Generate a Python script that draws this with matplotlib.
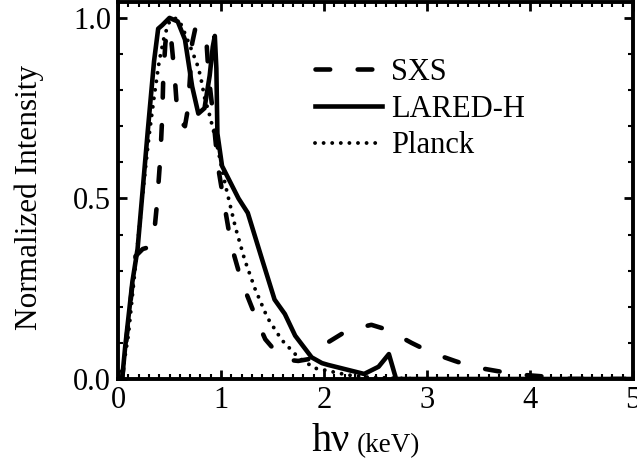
import matplotlib
matplotlib.use("Agg")
import matplotlib.pyplot as plt
from matplotlib.ticker import MultipleLocator

plt.rcParams["font.family"] = ["Liberation Serif", "DejaVu Serif"]

# SXS measurement (dashed)
sxs_x = [0.0, 0.04, 0.17, 0.24, 0.30, 0.35, 0.38, 0.41, 0.43, 0.44, 0.46, 0.48,
         0.52, 0.55, 0.58, 0.65, 0.68, 0.72, 0.75, 0.83, 0.86, 0.88, 0.92, 0.97,
         1.04, 1.10, 1.20, 1.36, 1.43, 1.55, 1.65, 1.75, 1.85, 1.95, 2.03, 2.23,
         2.46, 2.62, 2.85, 3.05, 3.27, 3.44, 3.66, 3.86, 4.09, 4.25, 4.4, 5.0]
sxs_y = [0.0, 0.0, 0.34, 0.36, 0.365, 0.40, 0.49, 0.61, 0.73, 0.84, 0.93, 0.97,
         0.93, 0.84, 0.72, 0.70, 0.75, 0.93, 0.97, 0.97, 0.93, 0.84, 0.74, 0.59,
         0.47, 0.37, 0.27, 0.155, 0.11, 0.07, 0.053, 0.05, 0.055, 0.075, 0.10, 0.135,
         0.15, 0.136, 0.10, 0.072, 0.05, 0.034, 0.023, 0.013, 0.008, 0.004, 0.0, 0.0]

# LARED-H simulation (solid)
lared_x = [0.0, 0.04, 0.07, 0.14, 0.19, 0.29, 0.35, 0.39, 0.43, 0.50, 0.58,
           0.65, 0.72, 0.78, 0.84, 0.89, 0.92, 0.94, 0.955, 0.965, 1.01, 1.17,
           1.26, 1.40, 1.52, 1.62, 1.72, 1.88, 1.98, 2.04, 2.39, 2.53, 2.63,
           2.70, 5.0]
lared_y = [0.0, 0.0, 0.09, 0.27, 0.36, 0.69, 0.88, 0.97, 0.98, 1.0, 0.99,
           0.94, 0.81, 0.735, 0.75, 0.84, 0.92, 0.95, 0.86, 0.68, 0.59, 0.50,
           0.46, 0.33, 0.22, 0.18, 0.12, 0.06, 0.044, 0.039, 0.014, 0.034, 0.069,
           0.0, 0.0]

# Planck spectrum (dotted)
planck_x = [0.0, 0.05, 0.1, 0.15, 0.2, 0.25, 0.3, 0.35, 0.4, 0.45, 0.5, 0.55,
            0.6, 0.66, 0.73, 0.77, 0.8, 0.84, 0.89, 0.96, 1.04, 1.14, 1.23, 1.33,
            1.45, 1.59, 1.75, 1.91, 2.0, 2.23, 2.43, 2.7, 3.0, 5.0]
planck_y = [0.0, 0.03, 0.12, 0.26, 0.40, 0.54, 0.67, 0.78, 0.88, 0.95, 0.99, 1.0,
            0.99, 0.95, 0.90, 0.87, 0.84, 0.78, 0.73, 0.65, 0.54, 0.42, 0.33, 0.25,
            0.17, 0.108, 0.06, 0.03, 0.025, 0.011, 0.005, 0.002, 0.0, 0.0]

fig = plt.figure(figsize=(6.37, 4.66), dpi=100)
ax = fig.add_axes([118 / 637, 1 - 379 / 466, (633 - 118) / 637, (379 - 2) / 466])

ax.plot(sxs_x, sxs_y, color="black", lw=3.3, linestyle=(0, (3.2, 6)),
        dash_capstyle="round", label="SXS")
ax.plot(lared_x, lared_y, color="black", lw=3.3, label="LARED-H")
ax.plot(planck_x, planck_y, color="black", lw=2.8, linestyle=(0, (0.01, 2.2)),
        dash_capstyle="round", label="Planck")

ax.set_xlim(0, 5)
ax.set_ylim(0, 1.044)
ax.xaxis.set_major_locator(MultipleLocator(1))
ax.xaxis.set_minor_locator(MultipleLocator(0.1))
ax.yaxis.set_major_locator(MultipleLocator(0.5))
ax.yaxis.set_minor_locator(MultipleLocator(0.1))
ax.tick_params(which="both", direction="in", top=True, right=True,
               labelsize=22, pad=5)
ax.tick_params(which="major", length=6.5, width=2)
ax.tick_params(which="minor", length=3.5, width=1.5)
for s in ax.spines.values():
    s.set_linewidth(2.8)

leg = ax.legend(loc="upper left", bbox_to_anchor=(315 / 637, 1 - 58 / 466),
                bbox_transform=fig.transFigure, frameon=False, fontsize=22,
                handlelength=2.2, handletextpad=0.28, labelspacing=0.25,
                borderpad=0, borderaxespad=0)

# axis labels
fig.text(29 / 637, 1 - 197 / 466, "Normalized Intensity", rotation=90,
         ha="center", va="center", fontsize=22.5)
fig.text(312 / 637, 1 - 451 / 466, "hν", ha="left", va="baseline", fontsize=29)
fig.text(357 / 637, 1 - 452 / 466, "(keV)", ha="left", va="baseline", fontsize=19.5)

fig.savefig("out.png", dpi=100)
